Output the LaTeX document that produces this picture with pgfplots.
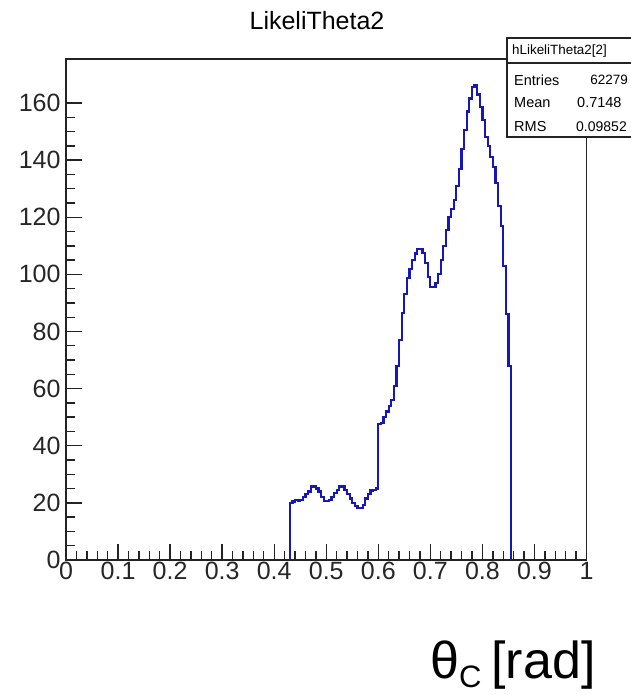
\documentclass[border=0pt]{standalone}
\usepackage{pgfplots}
\pgfplotsset{compat=1.18}
\usepackage{fontspec}
\setmainfont{Liberation Sans}
\definecolor{histblue}{RGB}{22,22,185}
\definecolor{framegray}{RGB}{35,35,35}
\begin{document}
\begin{tikzpicture}[x=1pt,y=1pt]
\useasboundingbox (0,0) rectangle (630,-695);
\begin{axis}[
  at={(66pt,-560pt)}, anchor=south west,
  scale only axis, width=520.5pt, height=501pt,
  xmin=0, xmax=1, ymin=0, ymax=175.4,
  axis line style={line width=1.8pt, framegray},
  every tick/.style={line width=1.4pt, framegray},
  xtick={0,0.1,0.2,0.3,0.4,0.5,0.6,0.7,0.8,0.9,1},
  xticklabels={0,0.1,0.2,0.3,0.4,0.5,0.6,0.7,0.8,0.9,1},
  ytick={0,20,40,60,80,100,120,140,160},
  yticklabels={0,20,40,60,80,100,120,140,160},
  minor x tick num=4, minor y tick num=3,
  tick align=inside, xtick pos=bottom, ytick pos=left,
  major tick length=16pt, minor tick length=9pt,
  tick label style={font=\fontsize{25}{28}\selectfont, text=black!85},
  xticklabel style={yshift=1pt},
  yticklabel style={xshift=-2pt},
  /pgf/number format/assume math mode=true,
]
\addplot[const plot, histblue, line width=2.2pt] coordinates {
(0.430,0)
(0.430,20) (0.435,20.5) (0.440,21) (0.445,20.6) (0.450,21)
(0.455,22) (0.460,23) (0.465,24) (0.470,25.7) (0.475,25.7)
(0.480,25) (0.485,24) (0.490,22) (0.495,20.6) (0.500,20.6)
(0.505,21) (0.510,22) (0.515,23.5) (0.520,24.5) (0.525,25.7)
(0.530,25.7) (0.535,24.5) (0.540,23) (0.545,21.5) (0.550,20)
(0.555,18.8) (0.560,18.2) (0.565,18.2) (0.570,19.3) (0.575,21.5)
(0.580,23) (0.585,24.3) (0.590,24.5) (0.595,25)
(0.600,47.5) (0.605,48) (0.610,50) (0.615,52) (0.620,54)
(0.625,56) (0.630,61) (0.635,68) (0.640,77) (0.645,86.5)
(0.650,93) (0.655,98.6) (0.660,102) (0.665,105) (0.670,107.3)
(0.675,109) (0.680,109) (0.685,107.5) (0.690,104) (0.695,99)
(0.700,95.7) (0.705,95.7) (0.710,97) (0.715,100) (0.720,105)
(0.725,110) (0.730,115.5) (0.735,120) (0.740,123) (0.745,126)
(0.750,131) (0.755,137) (0.760,144) (0.765,150.5) (0.770,157)
(0.775,161.6) (0.780,165.7) (0.785,166.3) (0.790,163) (0.795,158.7)
(0.800,154) (0.805,148) (0.810,145) (0.815,141) (0.820,137.7)
(0.825,132) (0.830,124) (0.835,117) (0.840,103) (0.845,86)
(0.850,68) (0.855,0)
};
\end{axis}
% title
\node[anchor=base, inner sep=0pt] at (317,-30) {\fontsize{25}{28}\selectfont LikeliTheta2};
% stats box
\draw[line width=1.5pt, framegray, fill=white] (507,-38) rectangle (645,-137);
\draw[line width=1.2pt, framegray] (507,-63) -- (645,-63);
\node[anchor=west, inner sep=0pt] at (512,-51) {\fontsize{13.4}{15}\selectfont hLikeliTheta2[2]};
\node[anchor=west, inner sep=0pt] at (514,-80) {\fontsize{14.5}{16}\selectfont Entries};
\node[anchor=east, inner sep=0pt] at (628,-80) {\fontsize{13.5}{16}\selectfont 62279};
\node[anchor=west, inner sep=0pt] at (514,-103) {\fontsize{14.5}{16}\selectfont Mean};
\node[anchor=west, inner sep=0pt] at (577,-103) {\fontsize{14.5}{16}\selectfont 0.7148};
\node[anchor=west, inner sep=0pt] at (514,-127) {\fontsize{14.5}{16}\selectfont RMS};
\node[anchor=west, inner sep=0pt] at (576,-127) {\fontsize{14}{16}\selectfont 0.09852};
% x label
\node[anchor=base west, inner sep=0pt] at (430,-678) {\fontsize{52}{60}\selectfont θ\raisebox{-9pt}{\fontsize{31}{34}\selectfont C}\hspace{10pt}[rad]};
\end{tikzpicture}
\end{document}
